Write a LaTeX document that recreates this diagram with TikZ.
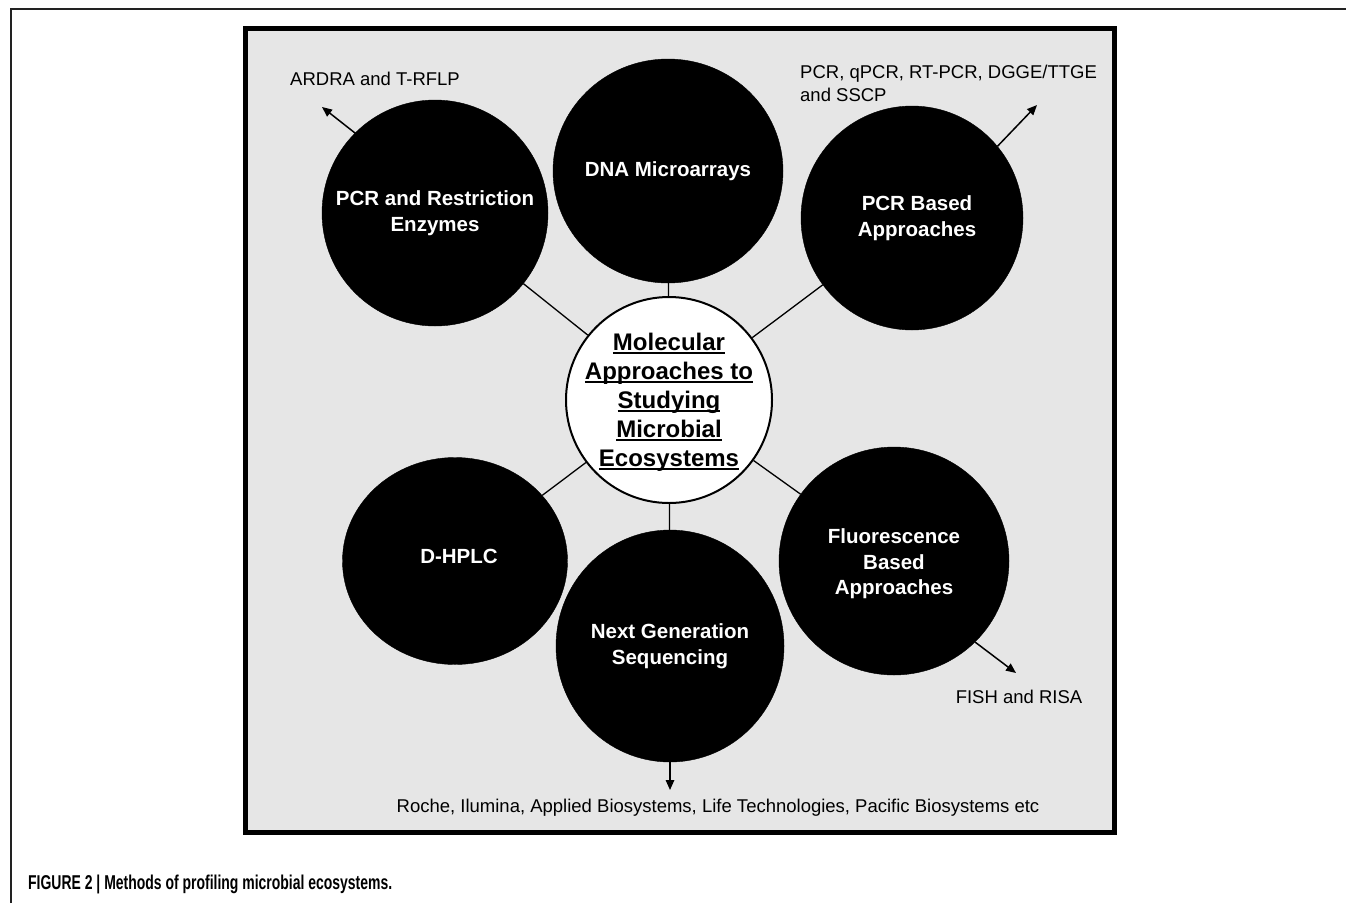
\documentclass[tikz,border=0pt]{standalone}
\usepackage{graphicx}
\usepackage{fontspec}
\setmainfont{Liberation Sans}
\usetikzlibrary{shapes.geometric,arrows.meta}
\definecolor{boxgray}{RGB}{230,230,230}
\definecolor{framegray}{RGB}{34,34,34}
\newcommand\myul[1]{\setbox0\hbox{#1}\rlap{\rule[-4pt]{\wd0}{2pt}}\box0}
\tikzset{
  blob/.style={ellipse, fill=black, draw=black, inner sep=0pt},
  blobtxt/.style={text=white, font=\fontsize{20.5}{25.5}\selectfont\bfseries, align=center, inner sep=0pt},
  centertxt/.style={text=black, font=\fontsize{24}{29}\selectfont\bfseries, align=center, inner sep=0pt},
  link/.style={line width=1.3pt},
  outarrow/.style={line width=1.5pt, -{Triangle[length=10pt,width=8.5pt]}},
  lbl/.style={font=\fontsize{18.5}{23}\selectfont, inner sep=0pt}
}
\begin{document}
\begin{tikzpicture}[x=1pt,y=-1pt]
\useasboundingbox (0,0) rectangle (1346,903);
% outer frame
\draw[framegray, line width=1.3pt] (11,903) -- (11,9) -- (1346,9);
% inner box
\draw[line width=5pt, fill=boxgray] (245.5,28.5) rectangle (1114.5,832.5);
% center
\node[ellipse, draw, fill=white, line width=2pt, minimum width=206, minimum height=206, inner sep=0pt,
  label={[centertxt, yshift=-2pt]center:{\myul{Molecular}\\\myul{Approaches to}\\\myul{Studying}\\\myul{Microbial}\\\myul{Ecosystems}}}] (c) at (669,400) {};
% outer circles
\node[blob, minimum width=230, minimum height=224, label={[blobtxt]center:{DNA Microarrays}}] (dna) at (668,171) {};
\node[blob, minimum width=226, minimum height=226, label={[blobtxt]center:{PCR and Restriction\\Enzymes}}] (prc) at (435,213) {};
\node[blob, minimum width=222, minimum height=224, label={[blobtxt, xshift=5pt]center:{PCR Based\\Approaches}}] (pcrb) at (912,218) {};
\node[blob, minimum width=225, minimum height=207, label={[blobtxt, xshift=4pt, yshift=5pt]center:{D-HPLC}}] (dhplc) at (455,561) {};
\node[blob, minimum width=228, minimum height=232, label={[blobtxt]center:{Next Generation\\Sequencing}}] (ngs) at (670,646) {};
\node[blob, minimum width=230, minimum height=228, label={[blobtxt, yshift=-3pt]center:{Fluorescence\\Based\\Approaches}}] (fl) at (894,561) {};
% connectors
\draw[link] (c) -- (dna);
\draw[link] (c) -- (prc);
\draw[link] (c) -- (pcrb);
\draw[link] (c) -- (dhplc);
\draw[link] (c) -- (ngs);
\draw[link] (c) -- (fl);
% outward arrows and labels
\coordinate (ardraE) at (322,107);
\coordinate (pcrbE) at (1037,105);
\coordinate (fishE) at (1016,673);
\coordinate (ngsE) at (670,790);
\draw[outarrow] (prc.135) -- (ardraE);
\draw[outarrow] (pcrb.40) -- (pcrbE);
\draw[outarrow] (fl.-45) -- (fishE);
\draw[outarrow] (ngs) -- (ngsE);
\node[lbl, anchor=west] (ardra) at (290,79) {ARDRA and T-RFLP};
\node[lbl, anchor=west, align=left] (pcrl) at (800,83) {PCR, qPCR, RT-PCR, DGGE/TTGE\\and SSCP};
\node[lbl] (fish) at (1019,697) {FISH and RISA};
\node[lbl] (roche) at (718,808) {Roche, Ilumina, Applied Biosystems, Life Technologies, Pacific Biosystems etc};
% caption
\node[anchor=west, inner sep=0pt] (cap) at (28,884) {\resizebox{364pt}{\height}{\bfseries\fontsize{20}{23}\selectfont FIGURE 2 | Methods of profiling microbial ecosystems.}};
\end{tikzpicture}
\end{document}
